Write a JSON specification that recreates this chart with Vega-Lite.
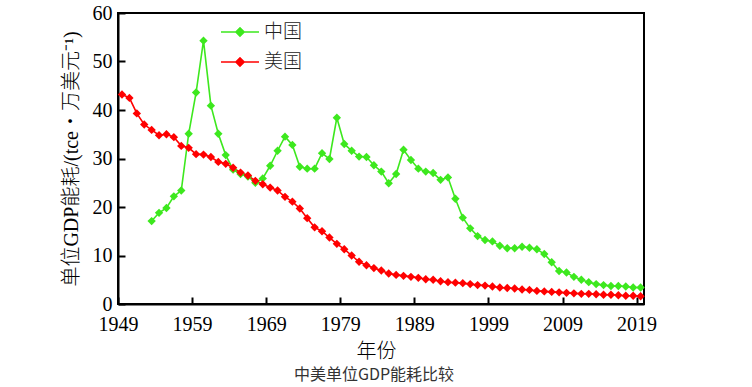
{
  "$schema": "https://vega.github.io/schema/vega-lite/v6.json",
  "width": 526,
  "height": 291,
  "autosize": "none",
  "padding": {"left": 118, "top": 13, "right": 108, "bottom": 83},
  "background": "white",
  "config": {
    "view": {"stroke": "black", "strokeWidth": 2},
    "font": "Liberation Serif, Noto Sans CJK SC",
    "axis": {
      "grid": false,
      "domainColor": "black",
      "domainWidth": 2,
      "tickColor": "black",
      "tickWidth": 2,
      "tickSize": -7,
      "labelFlush": false,
      "labelOverlap": false,
      "labelFont": "Liberation Serif",
      "labelFontSize": 20,
      "labelColor": "black",
      "titleFont": "Liberation Serif, Noto Sans CJK SC",
      "titleFontSize": 20,
      "titleFontWeight": 300,
      "titleColor": "black"
    }
  },
  "title": {
    "text": "中美单位GDP能耗比较",
    "orient": "bottom",
    "anchor": "middle",
    "font": "Noto Sans CJK SC",
    "fontSize": 16,
    "fontWeight": "normal",
    "color": "#333333",
    "offset": 6,
    "dx": -7
  },
  "data": {
    "values": [
      {"year": 1953, "country": "中国", "value": 17.1},
      {"year": 1954, "country": "中国", "value": 18.8},
      {"year": 1955, "country": "中国", "value": 19.8},
      {"year": 1956, "country": "中国", "value": 22.2},
      {"year": 1957, "country": "中国", "value": 23.4},
      {"year": 1958, "country": "中国", "value": 35.1},
      {"year": 1959, "country": "中国", "value": 43.6},
      {"year": 1960, "country": "中国", "value": 54.3},
      {"year": 1961, "country": "中国", "value": 40.9},
      {"year": 1962, "country": "中国", "value": 35.1},
      {"year": 1963, "country": "中国", "value": 30.7},
      {"year": 1964, "country": "中国", "value": 27.7},
      {"year": 1965, "country": "中国", "value": 26.8},
      {"year": 1966, "country": "中国", "value": 26.3},
      {"year": 1967, "country": "中国", "value": 25.0},
      {"year": 1968, "country": "中国", "value": 25.9},
      {"year": 1969, "country": "中国", "value": 28.5},
      {"year": 1970, "country": "中国", "value": 31.6},
      {"year": 1971, "country": "中国", "value": 34.5},
      {"year": 1972, "country": "中国", "value": 32.8},
      {"year": 1973, "country": "中国", "value": 28.3},
      {"year": 1974, "country": "中国", "value": 27.9},
      {"year": 1975, "country": "中国", "value": 27.9},
      {"year": 1976, "country": "中国", "value": 31.1},
      {"year": 1977, "country": "中国", "value": 29.9},
      {"year": 1978, "country": "中国", "value": 38.4},
      {"year": 1979, "country": "中国", "value": 33.0},
      {"year": 1980, "country": "中国", "value": 31.6},
      {"year": 1981, "country": "中国", "value": 30.4},
      {"year": 1982, "country": "中国", "value": 30.3},
      {"year": 1983, "country": "中国", "value": 28.6},
      {"year": 1984, "country": "中国", "value": 27.3},
      {"year": 1985, "country": "中国", "value": 24.9},
      {"year": 1986, "country": "中国", "value": 26.8},
      {"year": 1987, "country": "中国", "value": 31.8},
      {"year": 1988, "country": "中国", "value": 29.7},
      {"year": 1989, "country": "中国", "value": 27.9},
      {"year": 1990, "country": "中国", "value": 27.3},
      {"year": 1991, "country": "中国", "value": 27.0},
      {"year": 1992, "country": "中国", "value": 25.6},
      {"year": 1993, "country": "中国", "value": 26.1},
      {"year": 1994, "country": "中国", "value": 21.7},
      {"year": 1995, "country": "中国", "value": 17.8},
      {"year": 1996, "country": "中国", "value": 15.6},
      {"year": 1997, "country": "中国", "value": 14.0},
      {"year": 1998, "country": "中国", "value": 13.2},
      {"year": 1999, "country": "中国", "value": 12.9},
      {"year": 2000, "country": "中国", "value": 12.0},
      {"year": 2001, "country": "中国", "value": 11.5},
      {"year": 2002, "country": "中国", "value": 11.5},
      {"year": 2003, "country": "中国", "value": 11.8},
      {"year": 2004, "country": "中国", "value": 11.6},
      {"year": 2005, "country": "中国", "value": 11.3},
      {"year": 2006, "country": "中国", "value": 10.3},
      {"year": 2007, "country": "中国", "value": 8.6},
      {"year": 2008, "country": "中国", "value": 6.8},
      {"year": 2009, "country": "中国", "value": 6.5},
      {"year": 2010, "country": "中国", "value": 5.6},
      {"year": 2011, "country": "中国", "value": 5.0},
      {"year": 2012, "country": "中国", "value": 4.5},
      {"year": 2013, "country": "中国", "value": 4.1},
      {"year": 2014, "country": "中国", "value": 3.9},
      {"year": 2015, "country": "中国", "value": 3.7},
      {"year": 2016, "country": "中国", "value": 3.7},
      {"year": 2017, "country": "中国", "value": 3.6},
      {"year": 2018, "country": "中国", "value": 3.4},
      {"year": 2019, "country": "中国", "value": 3.4},
      {"year": 1949, "country": "美国", "value": 43.2},
      {"year": 1950, "country": "美国", "value": 42.5},
      {"year": 1951, "country": "美国", "value": 39.3},
      {"year": 1952, "country": "美国", "value": 37.0},
      {"year": 1953, "country": "美国", "value": 35.9},
      {"year": 1954, "country": "美国", "value": 34.8},
      {"year": 1955, "country": "美国", "value": 35.0},
      {"year": 1956, "country": "美国", "value": 34.4},
      {"year": 1957, "country": "美国", "value": 32.6},
      {"year": 1958, "country": "美国", "value": 32.2},
      {"year": 1959, "country": "美国", "value": 30.9},
      {"year": 1960, "country": "美国", "value": 30.8},
      {"year": 1961, "country": "美国", "value": 30.3},
      {"year": 1962, "country": "美国", "value": 29.3},
      {"year": 1963, "country": "美国", "value": 28.9},
      {"year": 1964, "country": "美国", "value": 28.1},
      {"year": 1965, "country": "美国", "value": 27.1},
      {"year": 1966, "country": "美国", "value": 26.5},
      {"year": 1967, "country": "美国", "value": 25.4},
      {"year": 1968, "country": "美国", "value": 24.7},
      {"year": 1969, "country": "美国", "value": 24.0},
      {"year": 1970, "country": "美国", "value": 23.4},
      {"year": 1971, "country": "美国", "value": 22.1},
      {"year": 1972, "country": "美国", "value": 21.1},
      {"year": 1973, "country": "美国", "value": 19.7},
      {"year": 1974, "country": "美国", "value": 17.7},
      {"year": 1975, "country": "美国", "value": 15.8},
      {"year": 1976, "country": "美国", "value": 15.0},
      {"year": 1977, "country": "美国", "value": 13.7},
      {"year": 1978, "country": "美国", "value": 12.4},
      {"year": 1979, "country": "美国", "value": 11.3},
      {"year": 1980, "country": "美国", "value": 10.0},
      {"year": 1981, "country": "美国", "value": 8.7},
      {"year": 1982, "country": "美国", "value": 8.0},
      {"year": 1983, "country": "美国", "value": 7.4},
      {"year": 1984, "country": "美国", "value": 6.9},
      {"year": 1985, "country": "美国", "value": 6.3},
      {"year": 1986, "country": "美国", "value": 6.0},
      {"year": 1987, "country": "美国", "value": 5.8},
      {"year": 1988, "country": "美国", "value": 5.6},
      {"year": 1989, "country": "美国", "value": 5.4},
      {"year": 1990, "country": "美国", "value": 5.1},
      {"year": 1991, "country": "美国", "value": 5.0},
      {"year": 1992, "country": "美国", "value": 4.7},
      {"year": 1993, "country": "美国", "value": 4.5},
      {"year": 1994, "country": "美国", "value": 4.4},
      {"year": 1995, "country": "美国", "value": 4.3},
      {"year": 1996, "country": "美国", "value": 4.1},
      {"year": 1997, "country": "美国", "value": 3.9},
      {"year": 1998, "country": "美国", "value": 3.8},
      {"year": 1999, "country": "美国", "value": 3.6},
      {"year": 2000, "country": "美国", "value": 3.4},
      {"year": 2001, "country": "美国", "value": 3.3},
      {"year": 2002, "country": "美国", "value": 3.2},
      {"year": 2003, "country": "美国", "value": 3.0},
      {"year": 2004, "country": "美国", "value": 2.9},
      {"year": 2005, "country": "美国", "value": 2.7},
      {"year": 2006, "country": "美国", "value": 2.6},
      {"year": 2007, "country": "美国", "value": 2.5},
      {"year": 2008, "country": "美国", "value": 2.4},
      {"year": 2009, "country": "美国", "value": 2.3},
      {"year": 2010, "country": "美国", "value": 2.2},
      {"year": 2011, "country": "美国", "value": 2.1},
      {"year": 2012, "country": "美国", "value": 2.1},
      {"year": 2013, "country": "美国", "value": 2.0},
      {"year": 2014, "country": "美国", "value": 1.9},
      {"year": 2015, "country": "美国", "value": 1.9},
      {"year": 2016, "country": "美国", "value": 1.8},
      {"year": 2017, "country": "美国", "value": 1.7},
      {"year": 2018, "country": "美国", "value": 1.7},
      {"year": 2019, "country": "美国", "value": 1.6}
    ]
  },
  "encoding": {
    "x": {
      "field": "year",
      "type": "quantitative",
      "scale": {"domain": [1949, 2020], "nice": false, "zero": false},
      "axis": {
        "values": [1949, 1959, 1969, 1979, 1989, 1999, 2009, 2019],
        "format": "d",
        "labelPadding": 17,
        "title": "年份",
        "titleX": 258,
        "titlePadding": 7
      }
    },
    "y": {
      "field": "value",
      "type": "quantitative",
      "scale": {"domain": [0, 60], "nice": false},
      "axis": {
        "values": [0, 10, 20, 30, 40, 50, 60],
        "labelPadding": 13,
        "title": "单位GDP能耗/(tce・万美元⁻¹)",
        "titlePadding": 11
      }
    },
    "color": {
      "field": "country",
      "type": "nominal",
      "scale": {"domain": ["中国", "美国"], "range": ["#3de81e", "#ff0000"]},
      "legend": {
        "title": null,
        "orient": "none",
        "legendX": 102,
        "legendY": -1,
        "padding": 0,
        "symbolType": "M-1,0H1M-0.22,0L0,-0.22L0.22,0L0,0.22Z",
        "symbolSize": 1444,
        "symbolStrokeWidth": 1.5,
        "labelFont": "Noto Sans CJK SC",
        "labelFontSize": 19,
        "labelFontWeight": 300,
        "labelColor": "#222222",
        "labelOffset": 4,
        "rowPadding": 0
      }
    }
  },
  "layer": [
    {"mark": {"type": "line", "strokeWidth": 1.6, "xOffset": 4}},
    {"mark": {"type": "point", "shape": "diamond", "filled": true, "size": 70, "opacity": 1, "xOffset": 4}}
  ]
}
